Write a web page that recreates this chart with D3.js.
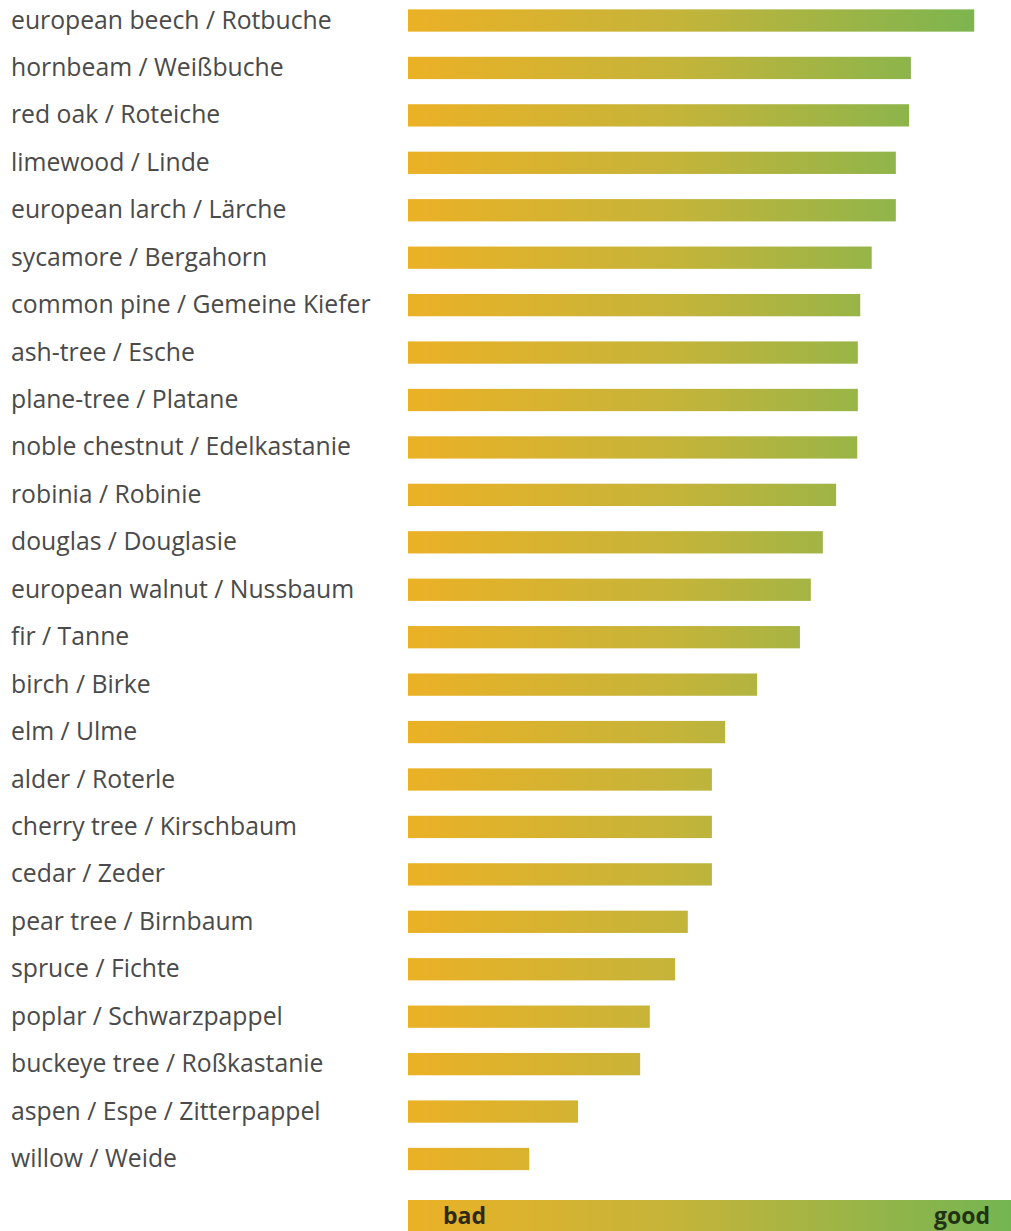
<!DOCTYPE html>
<html>
<head>
<meta charset="utf-8">
<script src="https://cdn.jsdelivr.net/npm/d3@7"></script>
<style>
  html, body { margin: 0; padding: 0; background: #ffffff; }
  svg { display: block; }
</style>
</head>
<body>
<div id="chart"></div>
<script>
// Data
const categories = [
  "european beech / Rotbuche",
  "hornbeam / Weißbuche",
  "red oak / Roteiche",
  "limewood / Linde",
  "european larch / Lärche",
  "sycamore / Bergahorn",
  "common pine / Gemeine Kiefer",
  "ash-tree / Esche",
  "plane-tree / Platane",
  "noble chestnut / Edelkastanie",
  "robinia / Robinie",
  "douglas / Douglasie",
  "european walnut / Nussbaum",
  "fir / Tanne",
  "birch / Birke",
  "elm / Ulme",
  "alder / Roterle",
  "cherry tree / Kirschbaum",
  "cedar / Zeder",
  "pear tree / Birnbaum",
  "spruce / Fichte",
  "poplar / Schwarzpappel",
  "buckeye tree / Roßkastanie",
  "aspen / Espe / Zitterpappel",
  "willow / Weide"
];
const values = [
  93.9, 83.4, 83.1, 80.9, 80.9, 76.9, 75.0, 74.6, 74.6, 74.5,
  71.0, 68.8, 66.8, 65.0, 57.9, 52.6, 50.4, 50.4, 50.4, 46.4,
  44.3, 40.1, 38.5, 28.2, 20.1
];
const legendLabels = ["bad", "good"];
const scaleMax = 100;

const W = 1011, H = 1231;
const svg = d3.select("#chart").append("svg")
  .attr("width", W).attr("height", H);

const x = d3.scaleLinear().domain([0, scaleMax]).range([408, 1011]);
const step = (1159 - 20.5) / (categories.length - 1);
const y = d3.scaleBand()
  .domain(categories)
  .range([20.5 - step / 2, 1159 + step / 2])
  .paddingInner(0.53)
  .paddingOuter(0.265);

const defs = svg.append("defs");
const grad = defs.append("linearGradient")
  .attr("id", "bargrad")
  .attr("gradientUnits", "userSpaceOnUse")
  .attr("x1", x(0)).attr("x2", x(scaleMax))
  .attr("y1", 0).attr("y2", 0);
grad.append("stop").attr("offset", "0%").attr("stop-color", "#ebb126");
grad.append("stop").attr("offset", "45%").attr("stop-color", "#c4b43a");
grad.append("stop").attr("offset", "100%").attr("stop-color", "#74b552");

// Bars
svg.append("g").selectAll("rect")
  .data(categories)
  .join("rect")
  .attr("x", x(0))
  .attr("y", d => y(d))
  .attr("width", (d, i) => x(values[i]) - x(0))
  .attr("height", y.bandwidth())
  .attr("fill", "url(#bargrad)");

// Labels
svg.append("g").selectAll("text")
  .data(categories)
  .join("text")
  .attr("x", 11)
  .attr("y", d => y(d) + y.bandwidth() / 2 + 8)
  .attr("font-family", "'Open Sans', sans-serif")
  .attr("font-size", 24.75)
  .attr("fill", "#4a4a4a")
  .text(d => d);

// Legend bar
svg.append("rect")
  .attr("x", x(0)).attr("y", 1200)
  .attr("width", x(scaleMax) - x(0)).attr("height", 40)
  .attr("fill", "url(#bargrad)");

svg.append("text")
  .attr("x", 443).attr("y", 1224)
  .attr("font-family", "'Open Sans', sans-serif")
  .attr("font-weight", "bold")
  .attr("font-size", 23)
  .attr("fill", "#2e2a1a")
  .text(legendLabels[0]);

svg.append("text")
  .attr("x", 990).attr("y", 1224)
  .attr("text-anchor", "end")
  .attr("font-family", "'Open Sans', sans-serif")
  .attr("font-weight", "bold")
  .attr("font-size", 23)
  .attr("fill", "#1f3314")
  .text(legendLabels[1]);
</script>
</body>
</html>
